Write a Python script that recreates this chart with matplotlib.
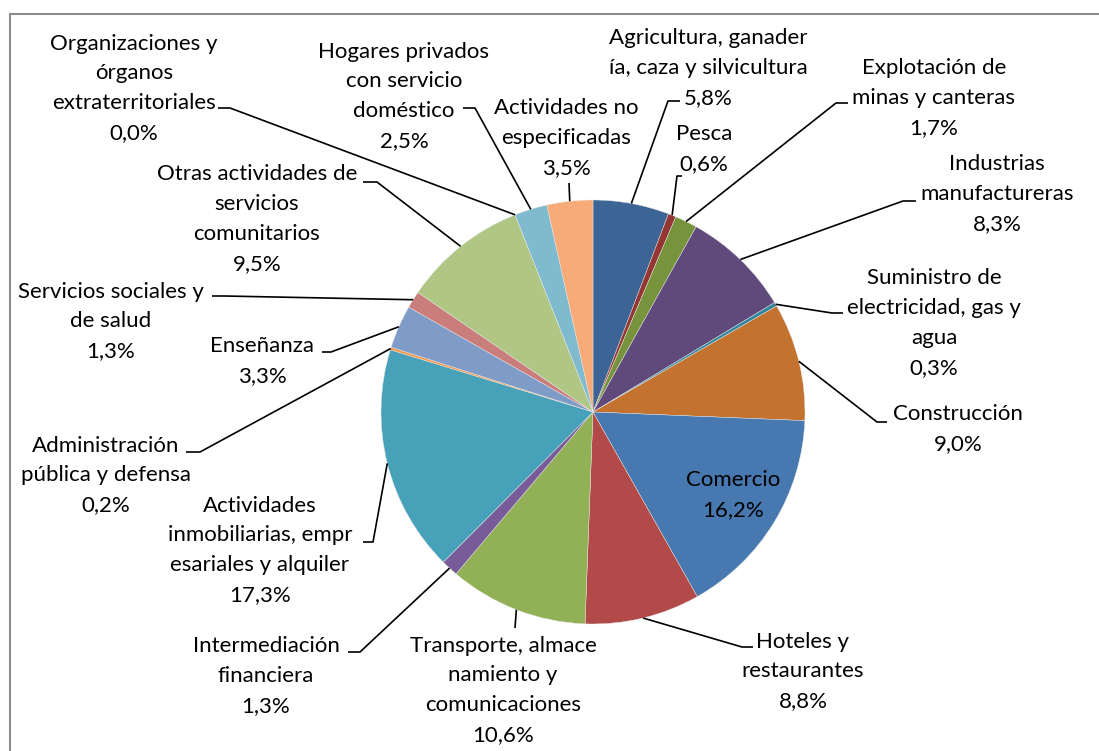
import numpy as np
import matplotlib
matplotlib.use("Agg")
import matplotlib.pyplot as plt

# ---- data ----
categories = [
    "Agricultura, ganader\nía, caza y silvicultura",
    "Pesca",
    "Explotación de\nminas y canteras",
    "Industrias\nmanufactureras",
    "Suministro de\nelectricidad, gas y\nagua",
    "Construcción",
    "Comercio",
    "Hoteles y\nrestaurantes",
    "Transporte, almace\nnamiento y\ncomunicaciones",
    "Intermediación\nfinanciera",
    "Actividades\ninmobiliarias, empr\nesariales y alquiler",
    "Administración\npública y defensa",
    "Enseñanza",
    "Servicios sociales y\nde salud",
    "Otras actividades de\nservicios\ncomunitarios",
    "Organizaciones y\nórganos\nextraterritoriales",
    "Hogares privados\ncon servicio\ndoméstico",
    "Actividades no\nespecificadas",
]
values = [5.8, 0.6, 1.7, 8.3, 0.3, 9.0, 16.2, 8.8, 10.6, 1.3, 17.3, 0.2, 3.3, 1.3, 9.5, 0.0, 2.5, 3.5]

colors = ["#3C6494", "#943634", "#77933C", "#604A7B", "#31859C", "#C3732F",
          "#4878B0", "#B14A48", "#92B055", "#775C99", "#46A1B9", "#F79646",
          "#7F9BC8", "#C97E7C", "#AFC685", "#A694BF", "#7FBACF", "#F7AB78"]

# ---- layout (pixel coordinates, y downward) ----
W, H = 1099, 751
center_px = (593, 412)
radius_px = 212
label_x = [708, 704, 934, 997, 934, 958, 733, 803, 503, 266, 260, 106, 262, 111, 257, 134, 404, 566]
label_y0 = [38, 134, 68, 164, 278, 414, 480, 641, 645, 646, 505, 445, 346, 291, 174, 43, 51, 108]
elbow = [(668, 101), (677, 176), (836, 103), (903, 201), (832, 313), (877, 422), None,
         (742, 647), (515, 628), (360, 652), (373, 542), (200, 452), (331, 352),
         (224, 296), (377, 182), (230, 108), (475, 108), (569, 183)]
stub = [(680, 101), (682, 176), (848, 103), (916, 201), (843, 313), (887, 422), None,
        (753, 647), (515, 628), (348, 652), (363, 542), (186, 452), (322, 352),
        (212, 296), (363, 182), (218, 108), (463, 108), (569, 183)]
line_step = 29.8
FONT = "Lato"
FS = 16


def Y(py):
    return H - py


fig = plt.figure(figsize=(W / 100, H / 100), dpi=100)
ax = fig.add_axes([0, 0, 1, 1])

ax.pie(values, colors=colors, startangle=90, counterclock=False,
       center=(center_px[0], Y(center_px[1])), radius=radius_px,
       wedgeprops=dict(linewidth=0.3, edgecolor="#e8e8e8"))

ax.set_xlim(0, W)
ax.set_ylim(0, H)
ax.set_aspect("equal")
ax.axis("off")

# frame of the chart area
ax.plot([10, 10, W], [Y(H), Y(14), Y(14)], color="#8c8c8c", lw=1.5,
        solid_joinstyle="miter", clip_on=False)

total = sum(values)
cum = 0.0
for i, (cat, v) in enumerate(zip(categories, values)):
    mid = 360.0 * (cum + v / 2.0) / total
    cum += v
    pct = f"{v:.1f}".replace(".", ",") + "%"
    lines = cat.split("\n") + [pct]
    for k, ln in enumerate(lines):
        ax.text(label_x[i], Y(label_y0[i] + k * line_step + 6.5), ln,
                ha="center", va="baseline", fontsize=FS, family=FONT,
                color="black")
    if elbow[i] is not None:
        t = np.deg2rad(mid)
        ex = center_px[0] + radius_px * np.sin(t)
        ey = center_px[1] - radius_px * np.cos(t)
        xs = [ex, elbow[i][0], stub[i][0]]
        ys = [Y(ey), Y(elbow[i][1]), Y(stub[i][1])]
        ax.plot(xs, ys, color="black", lw=1.2, solid_capstyle="butt")

fig.savefig("out.png", dpi=100)
